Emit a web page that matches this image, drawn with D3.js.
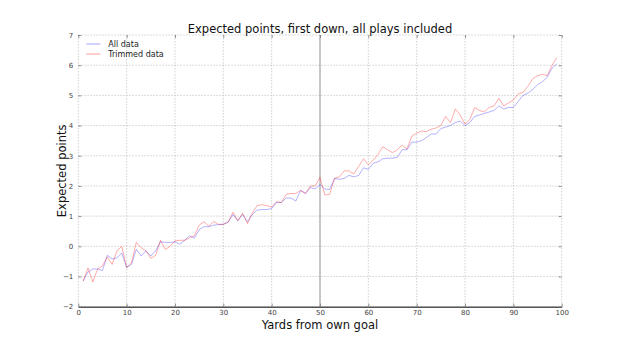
<!DOCTYPE html>
<html>
<head>
<meta charset="utf-8">
<script src="https://cdn.jsdelivr.net/npm/d3@7"></script>
<style>
  body { margin: 0; background: #fff; }
  svg { font-family: "DejaVu Sans", sans-serif; }
</style>
</head>
<body>
<svg id="chart" width="624" height="351"></svg>
<script>
// yards from own goal, 1..99
const yards = d3.range(1, 100);

const allData = [
  -1.15, -0.85, -0.75, -0.75, -0.8, -0.3, -0.42, -0.38, -0.22, -0.7,
  -0.6, -0.1, -0.32, -0.15, -0.32, -0.15, 0.15, 0.13, 0.13, 0.15,
  0.07, 0.2, 0.35, 0.27, 0.55, 0.65, 0.65, 0.7, 0.72, 0.73,
  0.8, 1.05, 0.85, 1.05, 0.82, 1.05, 1.2, 1.22, 1.22, 1.25,
  1.45, 1.45, 1.6, 1.6, 1.5, 1.85, 1.75, 1.95, 1.9, 2.05,
  1.9, 1.88, 2.25, 2.22, 2.25, 2.35, 2.3, 2.35, 2.6, 2.55,
  2.75, 2.8, 2.9, 2.92, 2.92, 2.95, 3.2, 3.2, 3.45, 3.45,
  3.5, 3.6, 3.72, 3.72, 3.9, 3.95, 4.0, 4.1, 4.15, 4.0,
  4.1, 4.3, 4.35, 4.4, 4.45, 4.5, 4.65, 4.55, 4.6, 4.6,
  4.8, 5.0, 5.07, 5.2, 5.35, 5.45, 5.6, 5.9, 6.05
];

const trimmedData = [
  -1.15, -0.72, -1.18, -0.75, -0.65, -0.35, -0.6, -0.15, 0.0, -0.7,
  -0.55, 0.13, -0.05, -0.15, -0.4, -0.3, 0.2, -0.1, 0.0, 0.18,
  0.2, 0.2, 0.28, 0.35, 0.7, 0.82, 0.67, 0.82, 0.73, 0.73,
  0.8, 1.13, 0.85, 1.1, 0.75, 1.1, 1.35, 1.38, 1.35, 1.3,
  1.48, 1.45, 1.72, 1.75, 1.75, 1.85, 1.75, 2.0, 2.0, 2.28,
  1.7, 1.72, 2.25, 2.3, 2.5, 2.5, 2.4, 2.65, 2.9, 2.7,
  2.85, 3.05, 3.3, 3.2, 3.1, 3.2, 3.35, 3.22, 3.65, 3.75,
  3.82, 3.8, 3.88, 3.92, 4.0, 4.3, 4.1, 4.55, 4.35, 4.05,
  4.2, 4.6, 4.5, 4.45, 4.6, 4.65, 4.9, 4.65, 4.75, 4.85,
  5.05, 5.1, 5.3, 5.55, 5.65, 5.7, 5.65, 6.0, 6.25
];

const xTicks = [0, 10, 20, 30, 40, 50, 60, 70, 80, 90, 100];
const yTicks = [-2, -1, 0, 1, 2, 3, 4, 5, 6, 7];

const series = [
  { name: "All data", values: allData, color: "#0000ff", opacity: 0.3 },
  { name: "Trimmed data", values: trimmedData, color: "#ff0000", opacity: 0.33 }
];

const svg = d3.select("#chart");
const margin = { top: 35, right: 62.3, bottom: 44.3, left: 78.3 };
const width = 624 - margin.left - margin.right;
const height = 351 - margin.top - margin.bottom;

const g = svg.append("g").attr("transform", `translate(${margin.left},${margin.top})`);

const x = d3.scaleLinear().domain([0, 100]).range([0, width]);
const y = d3.scaleLinear().domain([-2, 7]).range([height, 0]);

// grid
g.append("g").selectAll("line").data(xTicks).join("line")
  .attr("x1", d => x(d)).attr("x2", d => x(d))
  .attr("y1", 0).attr("y2", height)
  .attr("stroke", "#c4c4c4").attr("stroke-width", 0.8)
  .attr("stroke-dasharray", "1.5,1.5");
g.append("g").selectAll("line").data(yTicks).join("line")
  .attr("x1", 0).attr("x2", width)
  .attr("y1", d => y(d)).attr("y2", d => y(d))
  .attr("stroke", "#c4c4c4").attr("stroke-width", 0.8)
  .attr("stroke-dasharray", "1.5,1.5");

// midfield line
g.append("line")
  .attr("x1", x(50)).attr("x2", x(50))
  .attr("y1", 0).attr("y2", height)
  .attr("stroke", "#999").attr("stroke-width", 1);

// axes
const xAxis = g.append("g").attr("transform", `translate(0,${height})`)
  .call(d3.axisBottom(x).tickValues(xTicks).tickSizeInner(-3).tickSizeOuter(0).tickPadding(3));
const yAxis = g.append("g")
  .call(d3.axisLeft(y).tickValues(yTicks).tickSizeInner(-3).tickSizeOuter(0).tickPadding(5));
g.append("g").attr("transform", `translate(${width},0)`)
  .call(d3.axisRight(y).tickValues(yTicks).tickSizeInner(-3).tickSizeOuter(0).tickFormat(""));
g.append("g")
  .call(d3.axisTop(x).tickValues(xTicks).tickSizeInner(-3).tickSizeOuter(0).tickFormat(""));

g.selectAll(".domain").attr("stroke", "none");
g.selectAll(".tick line").attr("stroke", "#777").attr("stroke-width", 0.8);
g.selectAll(".tick text").attr("font-size", 7).attr("fill", "#444")
  .attr("font-family", "DejaVu Sans, sans-serif");
xAxis.select(".domain").attr("stroke", "#555").attr("stroke-width", 1.5);

// lines
const line = d3.line().x((d, i) => x(yards[i])).y(d => y(d));
series.forEach(s => {
  g.append("path")
    .datum(s.values)
    .attr("d", line)
    .attr("fill", "none")
    .attr("stroke", s.color)
    .attr("stroke-opacity", s.opacity)
    .attr("stroke-width", 1);
});

// legend
const legend = g.append("g").attr("transform", "translate(8,9)");
series.forEach((s, i) => {
  const row = legend.append("g").attr("transform", `translate(0,${i * 10})`);
  row.append("line").attr("x1", 0).attr("x2", 14).attr("y1", 0).attr("y2", 0)
    .attr("stroke", s.color).attr("stroke-opacity", s.opacity).attr("stroke-width", 1.2);
  row.append("text").attr("x", 22).attr("y", 3).attr("font-size", 8)
    .attr("fill", "#222").text(s.name);
});

// title and labels
svg.append("text").attr("x", margin.left + width / 2).attr("y", 33)
  .attr("text-anchor", "middle").attr("font-size", 11.5).attr("fill", "#111")
  .text("Expected points, first down, all plays included");
svg.append("text").attr("x", margin.left + width / 2).attr("y", 329)
  .attr("text-anchor", "middle").attr("font-size", 11.5).attr("fill", "#111")
  .text("Yards from own goal");
svg.append("text")
  .attr("transform", `translate(66,${margin.top + height / 2}) rotate(-90)`)
  .attr("text-anchor", "middle").attr("font-size", 11.5).attr("fill", "#111")
  .text("Expected points");
</script>
</body>
</html>
